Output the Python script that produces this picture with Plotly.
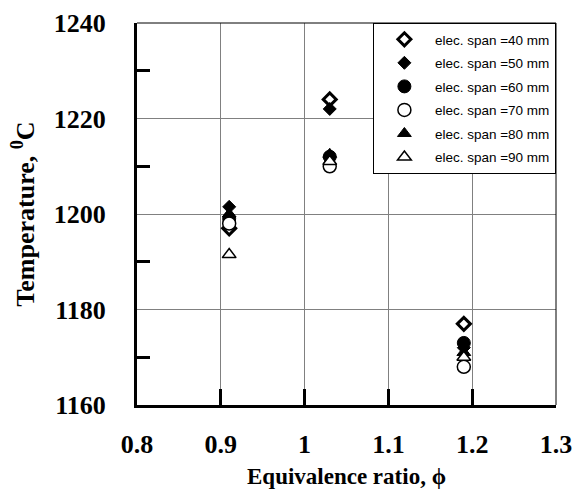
import plotly.graph_objects as go

# Data
phi = [0.91, 1.03, 1.19]
span_labels = ["elec. span =40 mm", "elec. span =50 mm", "elec. span =60 mm",
               "elec. span =70 mm", "elec. span =80 mm", "elec. span =90 mm"]
span40 = [1197, 1224, 1177]
span50 = [1201.5, 1222, 1172]
span60 = [1199, 1212, 1173]
span70 = [1198, 1210, 1168]
span80 = [1200, 1212.5, 1171]
span90 = [1191.5, 1211, 1170]

x_ticks = [0.8, 0.9, 1.0, 1.1, 1.2, 1.3]
x_tick_text = ["0.8", "0.9", "1", "1.1", "1.2", "1.3"]
y_ticks = [1160, 1180, 1200, 1220, 1240]

series = [span40, span50, span60, span70, span80, span90]
styles = [
    dict(symbol="diamond", size=10, color="white", line=dict(color="black", width=3)),
    dict(symbol="diamond", size=10, color="black", line=dict(color="black", width=1)),
    dict(symbol="circle", size=13, color="black", line=dict(color="black", width=1)),
    dict(symbol="circle", size=13, color="white", line=dict(color="black", width=1.5)),
    dict(symbol="triangle-up", size=12, color="black", line=dict(color="black", width=1)),
    dict(symbol="triangle-up", size=12, color="white", line=dict(color="black", width=1.5)),
]

fig = go.Figure()
for i, (name, vals, st) in enumerate(zip(span_labels, series, styles)):
    fig.add_trace(go.Scatter(x=phi, y=vals, mode="markers", name=name,
                             marker=st, legendgroup=f"g{i}"))

serif = "Liberation Serif"
fig.update_layout(
    width=575, height=489,
    margin=dict(l=137, r=19, t=23, b=84, autoexpand=False),
    paper_bgcolor="white", plot_bgcolor="white",
    showlegend=True,
    legend=dict(
        x=0.563, y=1.0, xanchor="left", yanchor="top",
        bgcolor="white", bordercolor="#000000", borderwidth=1,
        font=dict(family="Liberation Sans", size=13.5, color="#000000"),
        itemwidth=51, tracegroupgap=3,
    ),
    xaxis=dict(
        range=[0.8, 1.3], tickvals=x_ticks, ticktext=x_tick_text,
        showgrid=True, gridcolor="#808080", gridwidth=1,
        showline=True, linecolor="black", linewidth=3,
        ticks="inside", ticklen=16, tickwidth=3, tickcolor="black",
        ticklabelstandoff=14, automargin=False,
        tickfont=dict(family=serif, size=26, color="#000000", weight="bold"),
        title=dict(text="<b>Equivalence ratio, ϕ</b>",
                   font=dict(family=serif, size=23, color="#000000"), standoff=12),
        zeroline=False,
    ),
    yaxis=dict(
        range=[1160, 1240], tickvals=y_ticks,
        showgrid=True, gridcolor="#808080", gridwidth=1,
        showline=True, linecolor="black", linewidth=3,
        ticks="", ticklabelstandoff=23, automargin=False,
        tickfont=dict(family=serif, size=26, color="#000000", weight="bold"),
        minor=dict(tick0=1170, dtick=20, ticks="inside", ticklen=13,
                   tickwidth=3, tickcolor="black", showgrid=False),
        title=dict(text="<b>Temperature, <sup>0</sup>C</b>",
                   font=dict(family=serif, size=26, color="#000000"), standoff=12),
        zeroline=False,
    ),
    shapes=[
        dict(type="line", xref="paper", yref="paper", x0=0, x1=1, y0=1, y1=1,
             line=dict(color="black", width=1)),
        dict(type="line", xref="paper", yref="paper", x0=1, x1=1, y0=0, y1=1,
             line=dict(color="black", width=1)),
    ],
)

fig.write_html("out.html")
